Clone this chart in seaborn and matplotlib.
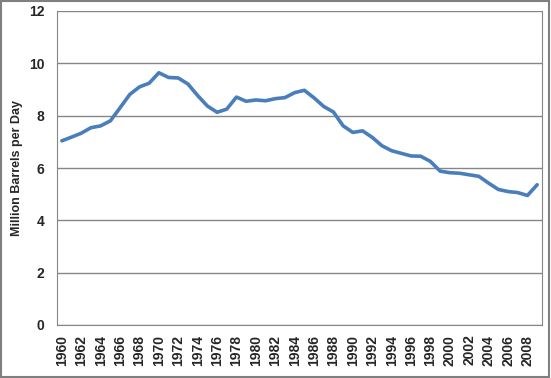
import numpy as np
import pandas as pd
import seaborn as sns
import matplotlib.pyplot as plt
from matplotlib.patches import Rectangle

# US crude oil production, million barrels per day
years = list(range(1960, 2010))
production = [7.04, 7.18, 7.33, 7.54, 7.61, 7.80, 8.30, 8.81, 9.10, 9.24,
              9.64, 9.46, 9.44, 9.21, 8.77, 8.37, 8.13, 8.25, 8.71, 8.55,
              8.60, 8.57, 8.65, 8.69, 8.88, 8.97, 8.68, 8.35, 8.14, 7.61,
              7.36, 7.42, 7.17, 6.85, 6.66, 6.56, 6.46, 6.45, 6.25, 5.88,
              5.82, 5.80, 5.74, 5.68, 5.42, 5.18, 5.10, 5.06, 4.95, 5.36]
y_ticks = [0, 2, 4, 6, 8, 10, 12]
x_labels = [str(y) for y in years[::2]]

df = pd.DataFrame({'year': years, 'production': production})

sns.set_style('white')
plt.rcParams['font.family'] = ['Liberation Sans', 'DejaVu Sans']

fig = plt.figure(figsize=(5.51, 3.78), dpi=100)
ax = fig.add_axes([57 / 551, 1 - 325 / 378, (542 - 57) / 551, (325 - 11) / 378])

grid_color = '#868686'
for v in y_ticks:
    ax.axhline(v, color=grid_color, lw=1, zorder=1)

sns.lineplot(data=df, x='year', y='production', ax=ax, color='#4A7EBB',
             lw=2.6, zorder=3)

ax.set_xlim(years[0] - 0.5, years[-1] + 0.5)
ax.set_ylim(0, 12)
ax.set_yticks(y_ticks)
ax.set_yticklabels([str(v) for v in y_ticks], fontsize=10, fontweight='bold')
ax.set_xticks(years[::2])
ax.set_xticklabels(x_labels, rotation=90, fontsize=10, fontweight='bold')
ax.set_xticks(np.arange(years[0] - 0.5, years[-1] + 1), minor=True)
ax.tick_params(axis='x', which='major', length=0, pad=7)
ax.tick_params(axis='x', which='minor', length=4, color=grid_color, width=1, direction='out')
ax.tick_params(axis='y', length=4, color=grid_color, width=1, direction='out', pad=5)

ax.set_xlabel('')
ax.set_ylabel('Million Barrels per Day', fontsize=9, fontweight='bold', labelpad=4)

ax.spines['top'].set_visible(False)
for side in ['left', 'bottom', 'right']:
    ax.spines[side].set_color(grid_color)

fig.patches.append(Rectangle((0.002, 0.003), 0.995, 0.994, transform=fig.transFigure,
                             fill=False, edgecolor='#7F7F7F', lw=1.5))

fig.savefig('out.png', dpi=100)
